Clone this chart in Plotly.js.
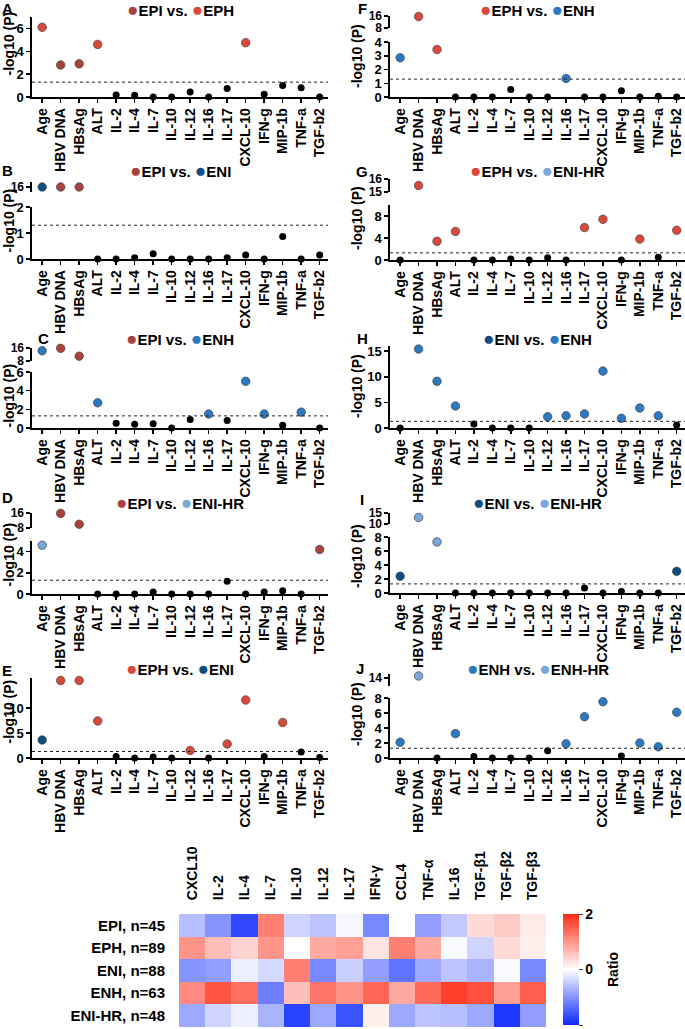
<!DOCTYPE html>
<html><head><meta charset="utf-8">
<script src="https://cdn.plot.ly/plotly-3.0.1.min.js"></script>
<style>html,body{margin:0;padding:0;background:#fff}#chart{width:685px;height:1029px}</style>
</head><body><div id="chart"></div>
<script>
// ---------------- DATA ----------------
const categories = ['Age','HBV DNA','HBsAg','ALT','IL-2','IL-4','IL-7','IL-10','IL-12','IL-16','IL-17','CXCL-10','IFN-g','MIP-1b','TNF-a','TGF-b2'];
const threshold = 1.3; // -log10(0.05)

const valuesA = [6.1,2.8,2.9,4.6,0.17,0.15,0,0,0.43,0,0.75,4.75,0.23,1.0,0.8,0];
const groupsA = ['EPH','EPI','EPI','EPH','','','','','','','','EPH','','','',''];
const valuesB = [16,16,16,0,0,0.05,0.2,0,0,0,0.05,0.15,0,0.87,0,0.15];
const groupsB = ['ENI','EPI','EPI','','','','','','','','','','','','',''];
const valuesC = [14.3,15.8,11,2.7,0.5,0.4,0.45,0,0.9,1.5,0.8,5.0,1.5,0.3,1.7,0];
const groupsC = ['ENH','EPI','EPI','ENH','','','','','','ENH','','ENH','ENH','','ENH',''];
const valuesD = [4.6,15.8,10,0,0,0,0.2,0,0,0,1.2,0,0.2,0.3,0,4.2];
const groupsD = ['ENIHR','EPI','EPI','','','','','','','','','','','','','EPI'];
const valuesE = [3.6,15.5,15.5,7.4,0.3,0,0.2,0,1.5,0,2.8,11.6,0.3,7.1,1.2,0.1];
const groupsE = ['ENI','EPH','EPH','EPH','','','','','EPH','','EPH','EPH','','EPH','',''];
const valuesF = [2.85,15.6,3.45,0,0,0,0.55,0,0,1.35,0,0,0.45,0,0.05,0];
const groupsF = ['ENH','EPH','EPH','','','','','','','ENH','','','','','',''];
const valuesG = [0,15.5,3.4,5.2,0,0,0.2,0,0.4,0,5.9,7.4,0,3.8,0.5,5.4];
const groupsG = ['','EPH','EPH','EPH','','','','','','','EPH','EPH','','EPH','','EPH'];
const valuesH = [0,15.4,9.1,4.3,0.8,0,0,0,2.2,2.4,2.75,11.1,1.9,3.9,2.4,0.6];
const groupsH = ['','ENH','ENH','ENH','','','','','ENH','ENH','ENH','ENH','ENH','ENH','ENH',''];
const valuesI = [2.4,13,7.3,0,0,0,0,0,0,0,0.7,0,0.2,0,0,3.1];
const groupsI = ['ENI','ENIHR','ENIHR','','','','','','','','','','','','','ENI'];
const valuesJ = [2.1,15,0,3.25,0.2,0,0,0,0.95,1.9,5.5,7.5,0.25,2.0,1.5,6.1];
const groupsJ = ['ENH','ENHHR','','ENH','','','','','','ENH','ENH','ENH','','ENH','ENH','ENH'];

const heatCols = ['CXCL10','IL-2','IL-4','IL-7','IL-10','IL-12','IL-17','IFN-γ','CCL4','TNF-α','IL-16','TGF-β1','TGF-β2','TGF-β3'];
const heatRows = ['EPI, n=45','EPH, n=89','ENI, n=88','ENH, n=63','ENI-HR, n=48'];
const ratioEPI   = [-0.6,-1.0,-1.7,1.2,-0.4,-0.55,-0.08,-1.1,0,-0.9,-0.5,0.35,0.5,0.2];
const ratioEPH   = [1.0,0.6,0.4,1.0,0,0.8,0.9,0.25,1.2,0.8,-0.05,-0.4,0.35,0.15];
const ratioENI   = [-1.0,-0.9,-0.15,-0.35,1.2,-1.1,-0.45,-0.9,-1.3,-0.8,-0.55,-0.7,-0.05,-1.1];
const ratioENH   = [1.1,1.6,1.35,-1.2,0.6,1.3,1.0,1.45,0.8,1.4,1.8,1.65,0.9,1.5];
const ratioENIHR = [-0.8,-0.4,-0.15,-0.7,-1.75,-0.8,-1.6,0.15,-0.8,-0.55,-0.6,-0.8,-1.85,-0.9];

// ---------------- STYLE ----------------
const groupColor = {EPI:'#a8423c', EPH:'#d8483d', ENI:'#0f4c81', ENH:'#2b79c2', ENIHR:'#7ba6da', ENHHR:'#7ba6da', '':'#000000'};
const W = 685, H = 1029;
const fx = p => p / W, fy = p => 1 - p / H;
const FONT = 'Arial, "Liberation Sans", Helvetica, sans-serif';
const COLS = {left:{x0:32, x1:328, ytx:8.5}, right:{x0:390, x1:685, ytx:357}};

const panels = [
 {L:'A', col:'left', v:valuesA, g:groupsA, pair:['EPI','EPH'], tY:10, let:[8,9], ytY:44,
  segs:[{top:17,bot:97,range:[0,7],ticks:[0,2,4,6]}]},
 {L:'B', col:'left', v:valuesB, g:groupsB, pair:['EPI','ENI'], tY:170, let:[7,170], ytY:221,
  segs:[{top:182,bot:192,range:[15.5,16.5],ticks:[16]},{top:207,bot:259,range:[0,2],ticks:[0,1,2]}]},
 {L:'C', col:'left', v:valuesC, g:groupsC, pair:['EPI','ENH'], tY:338, let:[43,338], ytY:396,
  segs:[{top:348,bot:361,range:[8,16],ticks:[8,16]},{top:372,bot:428,range:[0,6],ticks:[0,2,4,6]}]},
 {L:'D', col:'left', v:valuesD, g:groupsD, pair:['EPI','ENIHR'], tY:502, let:[7,497], ytY:555,
  segs:[{top:513,bot:528,range:[8,16],ticks:[8,16]},{top:541,bot:594,range:[0,5],ticks:[0,2,4]}]},
 {L:'E', col:'left', v:valuesE, g:groupsE, pair:['EPH','ENI'], tY:668, let:[7,670], ytY:712,
  segs:[{top:678,bot:758,range:[0,16],ticks:[0,5,10]}]},
 {L:'F', col:'right', v:valuesF, g:groupsF, pair:['EPH','ENH'], tY:10, let:[362,9], ytY:56,
  segs:[{top:16,bot:28,range:[8,16],ticks:[8,16]},{top:42,bot:97,range:[0,4],ticks:[0,1,2,3,4]}]},
 {L:'G', col:'right', v:valuesG, g:groupsG, pair:['EPH','ENIHR'], tY:170, let:[362,172], ytY:218,
  segs:[{top:179,bot:192,range:[15,16],ticks:[15,16]},{top:205,bot:260,range:[0,10],ticks:[0,4,8]}]},
 {L:'H', col:'right', v:valuesH, g:groupsH, pair:['ENI','ENH'], tY:338, let:[362,338], ytY:386,
  segs:[{top:346,bot:428,range:[0,16],ticks:[0,5,10,15]}]},
 {L:'I', col:'right', v:valuesI, g:groupsI, pair:['ENI','ENIHR'], tY:502, let:[362,500], ytY:556,
  segs:[{top:513,bot:524,range:[10,15],ticks:[10,15]},{top:537,bot:593,range:[0,8],ticks:[0,2,4,6,8]}]},
 {L:'J', col:'right', v:valuesJ, g:groupsJ, pair:['ENH','ENHHR'], tY:668, let:[360,668], ytY:714,
  segs:[{top:674,bot:686,range:[10,16],ticks:[14]},{top:698,bot:758,range:[0,8],ticks:[0,2,4,6,8]}]}
];
const pairLabel = {EPI:'EPI', EPH:'EPH', ENI:'ENI', ENH:'ENH', ENIHR:'ENI-HR', ENHHR:'ENH-HR'};

const traces = [];
const layout = {
  width: W, height: H, margin:{l:0,r:0,t:0,b:0}, showlegend:false,
  paper_bgcolor:'#fff', plot_bgcolor:'rgba(0,0,0,0)',
  font:{family:FONT, color:'#000', size:13, weight:'bold'},
  annotations:[], shapes:[]
};
let n = 0;
function axNames(){ n++; const s = n===1?'':String(n); return {xa:'xaxis'+s, ya:'yaxis'+s, xr:'x'+s, yr:'y'+s}; }

panels.forEach(p => {
  const c = COLS[p.col];
  p.segs.forEach((s, si) => {
    const isLower = si === p.segs.length - 1;
    const a = axNames();
    layout[a.xa] = {
      domain:[fx(c.x0), fx(c.x1)], anchor:a.yr, type:'category', categoryarray:categories,
      range:[-0.55, 15.45], visible:isLower, showline:true, linewidth:1.6, linecolor:'#000',
      ticks:'outside', ticklen:4, tickwidth:1.5, tickcolor:'#000', tickangle:-90,
      tickfont:{size:14, weight:'bold', family:FONT}, showgrid:false, zeroline:false, fixedrange:true
    };
    layout[a.ya] = {
      domain:[fy(s.bot), fy(s.top)], anchor:a.xr, range:s.range, tickvals:s.ticks,
      showline:true, linewidth:1.6, linecolor:'#000', ticks:'outside', ticklen:4, tickwidth:1.5,
      tickcolor:'#000', tickfont:{size:isLower ? 13 : 12, weight:'bold', family:FONT}, showgrid:false, zeroline:false, fixedrange:true
    };
    const lowTop = p.segs[p.segs.length-1].range[1];
    const xs=[], ys=[], cs=[], lw=[], sz=[];
    p.v.forEach((val, i) => {
      const inUpper = val > lowTop;
      if ((isLower && !inUpper) || (!isLower && inUpper)) {
        xs.push(categories[i]); ys.push(val);
        cs.push(groupColor[p.g[i]]);
        lw.push(p.g[i] ? 0.7 : 0); sz.push(p.g[i] ? 8.5 : 7);
      }
    });
    traces.push({type:'scatter', mode:'markers', x:xs, y:ys, xaxis:a.xr, yaxis:a.yr, cliponaxis:false,
      marker:{color:cs, size:sz, opacity:1, line:{color:'#444', width:lw}}, hoverinfo:'skip'});
    if (isLower) {
      layout.shapes.push({type:'line', xref:a.xr+' domain', x0:0, x1:1, yref:a.yr, y0:threshold, y1:threshold,
        line:{color:'#222', width:1, dash:'dot'}});
    }
  });
  const [g1, g2] = p.pair;
  layout.annotations.push({xref:'paper', yref:'paper', x:fx((c.x0+c.x1)/2), y:fy(p.tY), xanchor:'center', yanchor:'middle',
    showarrow:false, font:{size:15, weight:'bold', family:FONT},
    text:`<span style="color:${groupColor[g1]};font-size:19px">●</span>${pairLabel[g1]} vs. <span style="color:${groupColor[g2]};font-size:19px">●</span>${pairLabel[g2]}`});
  layout.annotations.push({xref:'paper', yref:'paper', x:fx(p.let[0]), y:fy(p.let[1]), xanchor:'center', yanchor:'middle',
    showarrow:false, text:p.L, font:{size:15, weight:'bold', family:FONT}});
  layout.annotations.push({xref:'paper', yref:'paper', x:fx(c.ytx), y:fy(p.ytY), xanchor:'center', yanchor:'middle',
    showarrow:false, textangle:-90, text:'-log10 (P)', font:{size:14, weight:'bold', family:FONT}});
});

// heatmap
const ha = axNames();
layout[ha.xa] = {domain:[fx(179), fx(546)], anchor:ha.yr, side:'top', tickangle:-90, ticks:'outside', ticklen:10,
  tickcolor:'rgba(0,0,0,0)', showline:false, showgrid:false, zeroline:false, tickfont:{size:14, weight:'bold', family:FONT}, fixedrange:true};
layout[ha.ya] = {domain:[fy(1027), fy(914)], anchor:ha.xr, autorange:'reversed', ticks:'outside', ticklen:10,
  tickcolor:'rgba(0,0,0,0)', showline:false, showgrid:false, zeroline:false, tickfont:{size:15, weight:'bold', family:FONT}, fixedrange:true};
traces.push({type:'heatmap', x:heatCols, y:heatRows, z:[ratioEPI, ratioEPH, ratioENI, ratioENH, ratioENIHR],
  xaxis:ha.xr, yaxis:ha.yr, zmin:-2, zmax:2, hoverinfo:'skip',
  colorscale:[[0,'#0a28ff'],[0.5,'#ffffff'],[1,'#ff2a14']],
  colorbar:{x:fx(563), xanchor:'left', y:fy(969.5), yanchor:'middle', len:111, lenmode:'pixels', thickness:16,
    thicknessmode:'pixels', outlinewidth:0, xpad:0, ypad:0, tickvals:[-2,0,2], ticks:'outside', ticklen:4,
    tickfont:{size:14, weight:'bold', family:FONT}}});
layout.annotations.push({xref:'paper', yref:'paper', x:fx(613), y:fy(970), xanchor:'center', yanchor:'middle',
  showarrow:false, textangle:-90, text:'Ratio', font:{size:14, weight:'bold', family:FONT}});

Plotly.newPlot('chart', traces, layout, {staticPlot:true, displayModeBar:false});
</script>
</body></html>
